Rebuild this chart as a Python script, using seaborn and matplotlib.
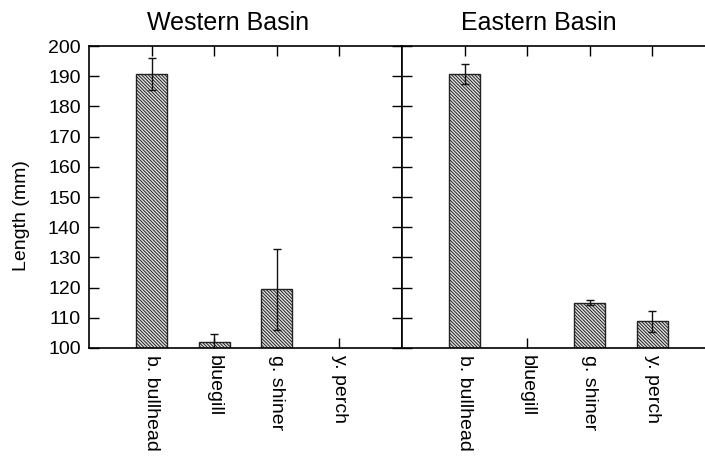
import numpy as np
import pandas as pd
import matplotlib
matplotlib.use("Agg")
import matplotlib.pyplot as plt
import seaborn as sns

species = ["b. bullhead", "bluegill", "g. shiner", "y. perch"]
west_len = [190.8, 101.9, 119.4, np.nan]
west_err = [5.3, 2.6, 13.5, np.nan]
east_len = [190.8, np.nan, 115.0, 108.8]
east_err = [3.4, np.nan, 0.8, 3.6]
yticks = [100, 110, 120, 130, 140, 150, 160, 170, 180, 190, 200]
titles = ["Western Basin", "Eastern Basin"]

sns.set_theme(style="white")
plt.rcParams["font.family"] = ["Liberation Sans", "DejaVu Sans"]
plt.rcParams["hatch.linewidth"] = 0.7
plt.rcParams["hatch.color"] = "#404040"
plt.rcParams["text.color"] = "black"
plt.rcParams["xtick.color"] = "black"
plt.rcParams["ytick.color"] = "black"
plt.rcParams["axes.labelcolor"] = "black"

W, H = 705, 462
fig = plt.figure(figsize=(W / 100, H / 100), dpi=100)
bottom = (H - 348) / H
height = 302 / H
axw = 313 / W
ax1 = fig.add_axes([89 / W, bottom, axw, height])
ax2 = fig.add_axes([402 / W, bottom, axw, height])

panels = [(ax1, west_len, west_err, titles[0], 0.444),
          (ax2, east_len, east_err, titles[1], 0.436)]

for i, (ax, vals, errs, title, tx) in enumerate(panels):
    df = pd.DataFrame({"species": species, "length": vals})
    sns.barplot(data=df, x="species", y="length", order=species, ax=ax,
                color="#e0e0e0", width=0.5, edgecolor="#222222",
                linewidth=1.0, errorbar=None, saturation=1)
    for p in ax.patches:
        p.set_hatch("\\" * 10)
    xs = np.arange(len(species))
    ax.errorbar(xs, vals, yerr=errs, fmt="none", ecolor="#111111",
                elinewidth=1.0, capsize=3, capthick=1.0, zorder=5)
    ax.set_xlim(-1, 4)
    ax.set_ylim(100, 200)
    ax.set_yticks(yticks)
    ax.set_xticks(xs)
    ax.set_xticklabels(species, rotation=270, ha="center", va="top",
                       fontsize=14, color="black")
    ax.set_xlabel("")
    for s in ax.spines.values():
        s.set_visible(True)
        s.set_color("black")
        s.set_linewidth(1.2)
    ax.tick_params(axis="x", direction="in", top=True, bottom=True,
                   length=7.5, width=1.0, color="black", pad=5)
    ax.tick_params(axis="y", direction="in", left=True, right=True,
                   length=7.5, width=1.0, color="black", labelsize=14,
                   labelcolor="black", pad=6)
    ax.text(tx, 1.053, title, transform=ax.transAxes, ha="center",
            va="baseline", fontsize=18, color="black")
    if i == 0:
        ax.set_ylabel("Length (mm)", fontsize=14, color="black")
        ax.yaxis.set_label_coords(-0.19, 0.44)
    else:
        ax.set_ylabel("")
        ax.tick_params(axis="y", labelleft=False)

fig.savefig("out.png", dpi=100)
